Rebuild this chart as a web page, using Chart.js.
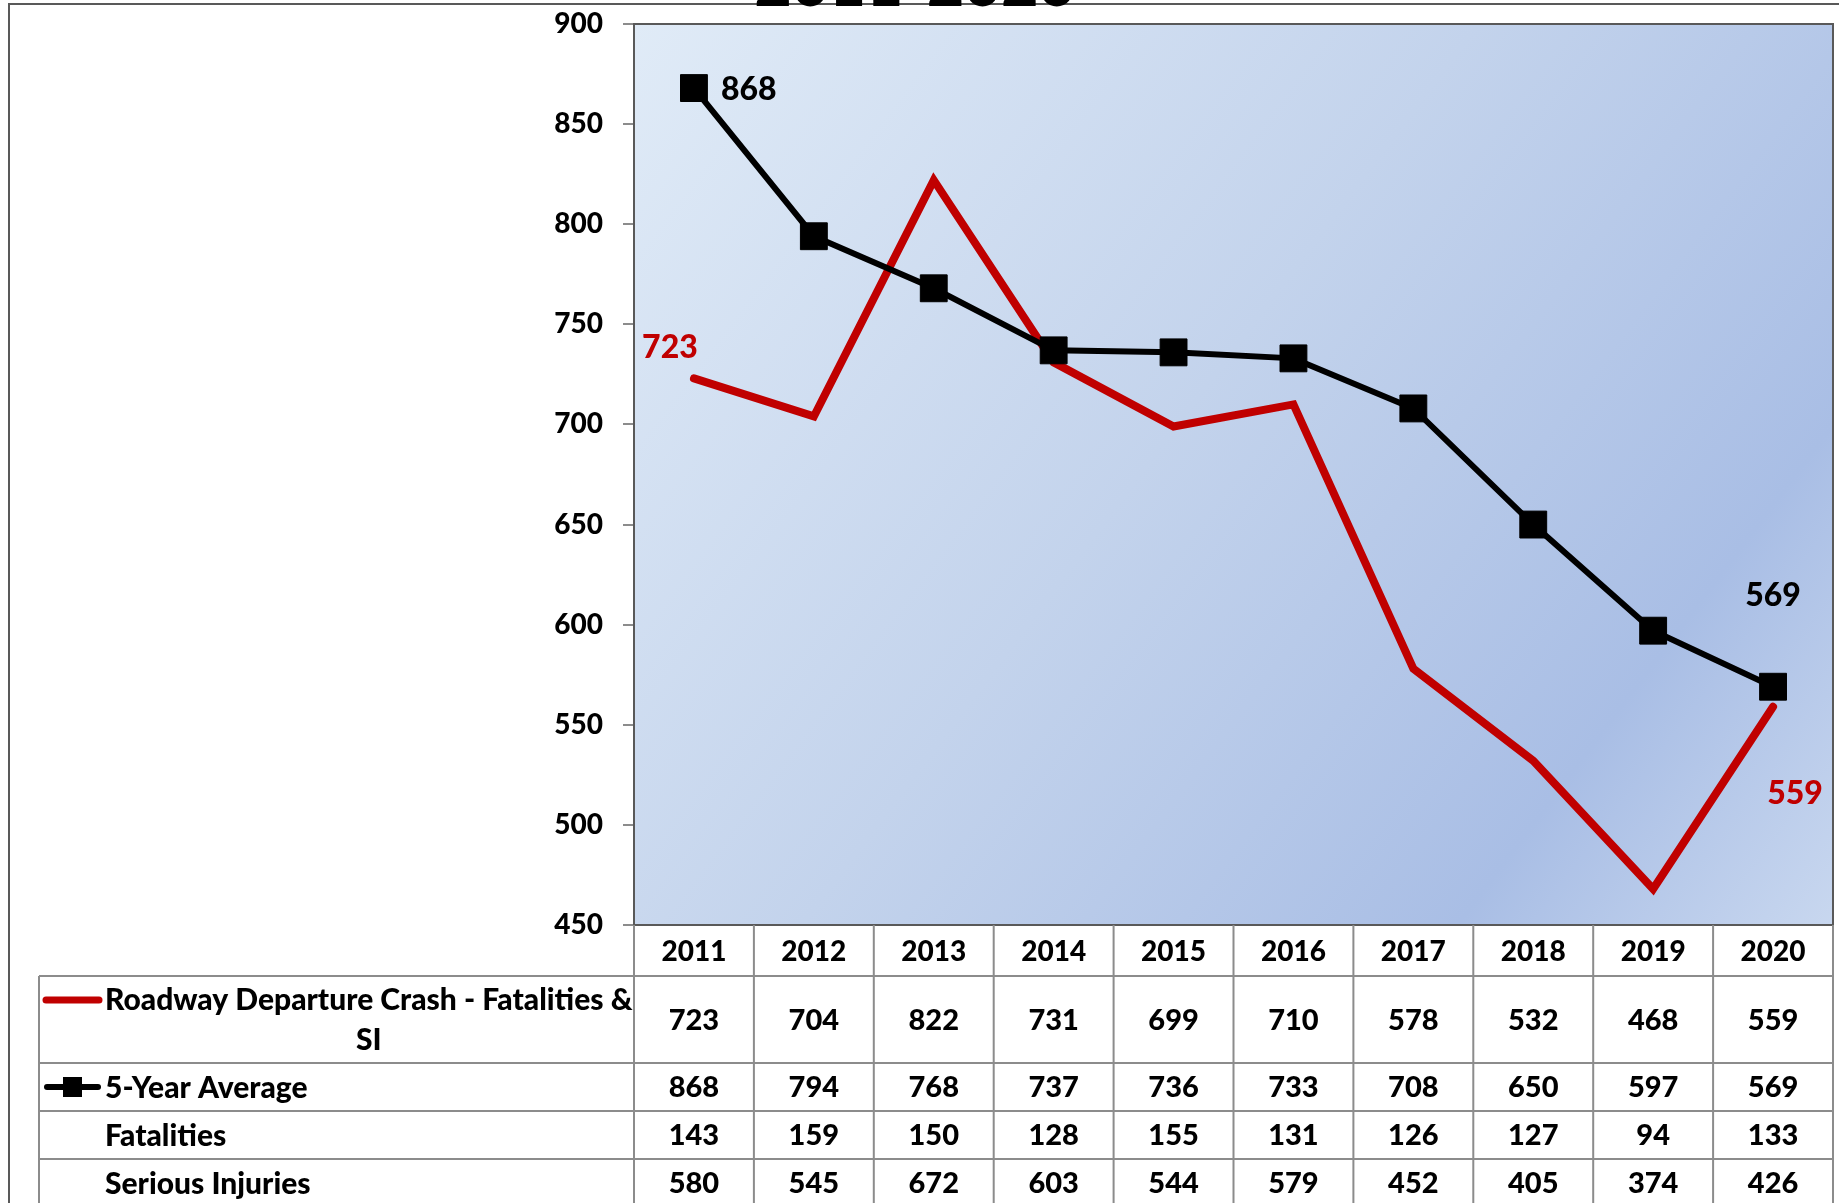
<!DOCTYPE html>
<html>
<head>
<meta charset="utf-8">
<script src="https://cdn.jsdelivr.net/npm/chart.js"></script>
<style>
  html, body { margin: 0; padding: 0; background: #fff; overflow: hidden; }
</style>
</head>
<body>
<canvas id="chart" width="1839" height="1203"></canvas>
<script>
// chart data
const years = ["2011", "2012", "2013", "2014", "2015", "2016", "2017", "2018", "2019", "2020"];
const roadwayDeparture = [723, 704, 822, 731, 699, 710, 578, 532, 468, 559];
const fiveYearAverage = [868, 794, 768, 737, 736, 733, 708, 650, 597, 569];
const fatalities = [143, 159, 150, 128, 155, 131, 126, 127, 94, 133];
const seriousInjuries = [580, 545, 672, 603, 544, 579, 452, 405, 374, 426];
const yMin = 450, yMax = 900, yStep = 50;

const FONT = "Lato, 'Open Sans', sans-serif";
const RED = "#c00000";
const GRID = "#8c8c8c";

// plot background gradient + border
const plotBackground = {
  id: "plotBackground",
  beforeDatasetsDraw(chart) {
    const { ctx, chartArea: a } = chart;
    ctx.save();
    const g = ctx.createLinearGradient(a.left, a.top, a.right, a.bottom);
    g.addColorStop(0, "#e0ebf7");
    g.addColorStop(0.45, "#c3d3ec");
    g.addColorStop(0.8, "#a9bee5");
    g.addColorStop(1, "#c8d7ef");
    ctx.fillStyle = g;
    ctx.fillRect(a.left, a.top, a.right - a.left, a.bottom - a.top);
    ctx.strokeStyle = "#595959";
    ctx.lineWidth = 2;
    ctx.strokeRect(a.left, a.top, a.right - a.left, a.bottom - a.top);
    ctx.restore();
  }
};

// first/last value labels
const endLabels = {
  id: "endLabels",
  afterDatasetsDraw(chart) {
    const ctx = chart.ctx;
    ctx.save();
    ctx.font = "900 32px " + FONT;
    ctx.textBaseline = "middle";
    chart.data.datasets.forEach((ds, i) => {
      const meta = chart.getDatasetMeta(i);
      (ds.endLabels || []).forEach(l => {
        const pt = meta.data[l.index];
        ctx.fillStyle = ds.labelColor;
        ctx.textAlign = l.align;
        ctx.fillText(String(ds.data[l.index]), pt.x + l.dx, pt.y + l.dy);
      });
    });
    ctx.restore();
  }
};

// data table, outer frame and clipped title
const dataTable = {
  id: "dataTable",
  afterDraw(chart) {
    const { ctx, chartArea: a } = chart;
    const x = chart.scales.x;
    const colW = x.getPixelForValue(1) - x.getPixelForValue(0);
    const tableLeft = 39;
    const rowTops = [a.bottom, a.bottom + 51, a.bottom + 138, a.bottom + 186, a.bottom + 234, a.bottom + 282];
    const rows = [roadwayDeparture, fiveYearAverage, fatalities, seriousInjuries];
    ctx.save();

    // frame
    ctx.strokeStyle = "#595959";
    ctx.lineWidth = 2;
    ctx.beginPath();
    ctx.moveTo(9, chart.height);
    ctx.lineTo(9, 4);
    ctx.lineTo(chart.width, 4);
    ctx.stroke();

    // title (mostly above the page)
    ctx.fillStyle = "#000";
    ctx.font = "900 64px " + FONT;
    ctx.textAlign = "center";
    ctx.textBaseline = "alphabetic";
    ctx.fillText("2011-2020", 915, 6);

    // grid
    ctx.strokeStyle = GRID;
    ctx.lineWidth = 2;
    ctx.beginPath();
    for (let i = 0; i <= years.length; i++) {
      const xx = a.left + i * colW;
      ctx.moveTo(xx, a.bottom);
      ctx.lineTo(xx, chart.height);
    }
    for (let r = 1; r < rowTops.length - 1; r++) {
      ctx.moveTo(tableLeft, rowTops[r]);
      ctx.lineTo(a.right, rowTops[r]);
    }
    ctx.moveTo(tableLeft, rowTops[1]);
    ctx.lineTo(tableLeft, chart.height);
    ctx.stroke();

    // year header
    ctx.fillStyle = "#000";
    ctx.font = "900 28px " + FONT;
    ctx.textBaseline = "middle";
    ctx.textAlign = "center";
    years.forEach((y, i) => ctx.fillText(y, x.getPixelForValue(i), (rowTops[0] + rowTops[1]) / 2 + 1));

    // values
    ctx.font = "900 29px " + FONT;
    rows.forEach((vals, r) => {
      const cy = (rowTops[r + 1] + rowTops[r + 2]) / 2 + 1;
      vals.forEach((v, i) => ctx.fillText(String(v), x.getPixelForValue(i), cy));
    });

    // row labels
    ctx.font = "900 30px " + FONT;
    const textX = 105;
    ctx.textAlign = "left";
    const l1 = "Roadway Departure Crash - Fatalities &";
    const y1 = rowTops[1] + 24;
    ctx.fillText(l1, textX, y1);
    ctx.textAlign = "center";
    ctx.fillText("SI", textX + ctx.measureText(l1).width / 2, y1 + 40);
    ctx.strokeStyle = RED;
    ctx.lineWidth = 7;
    ctx.lineCap = "round";
    ctx.beginPath();
    ctx.moveTo(46, y1);
    ctx.lineTo(99, y1);
    ctx.stroke();

    const y2 = (rowTops[2] + rowTops[3]) / 2;
    ctx.strokeStyle = "#000";
    ctx.lineWidth = 6;
    ctx.beginPath();
    ctx.moveTo(47, y2);
    ctx.lineTo(98, y2);
    ctx.stroke();
    ctx.fillRect(63, y2 - 10, 19, 20);
    ctx.textAlign = "left";
    ctx.fillText("5-Year Average", textX, y2 + 1);
    ctx.fillText("Fatalities", textX, (rowTops[3] + rowTops[4]) / 2 + 1);
    ctx.fillText("Serious Injuries", textX, (rowTops[4] + rowTops[5]) / 2 + 1);
    ctx.restore();
  }
};

new Chart(document.getElementById("chart"), {
  type: "line",
  data: {
    labels: years,
    datasets: [
      {
        label: "Roadway Departure Crash - Fatalities & SI",
        data: roadwayDeparture,
        borderColor: RED,
        borderWidth: 8,
        borderCapStyle: "round",
        borderJoinStyle: "miter",
        pointRadius: 0,
        tension: 0,
        order: 1,
        labelColor: RED,
        endLabels: [
          { index: 0, dx: -24, dy: -31, align: "center" },
          { index: 9, dx: 22, dy: 87, align: "center" }
        ]
      },
      {
        label: "5-Year Average",
        data: fiveYearAverage,
        borderColor: "#000",
        borderWidth: 6,
        pointStyle: "rect",
        pointRadius: 19,
        pointBackgroundColor: "#000",
        pointBorderColor: "#000",
        pointBorderWidth: 1,
        tension: 0,
        order: 0,
        labelColor: "#000",
        endLabels: [
          { index: 0, dx: 27, dy: 2, align: "left" },
          { index: 9, dx: 0, dy: -91, align: "center" }
        ]
      }
    ]
  },
  options: {
    responsive: false,
    devicePixelRatio: 1,
    animation: false,
    layout: { autoPadding: false, padding: { left: 0, top: 24, right: 6, bottom: 278 } },
    plugins: {
      legend: { display: false },
      title: { display: false },
      tooltip: { enabled: false }
    },
    scales: {
      x: {
        display: false,
        offset: true
      },
      y: {
        min: yMin,
        max: yMax,
        afterFit(scale) {
          scale.width = 634;
          scale.paddingTop = 0;
          scale.paddingBottom = 0;
        },
        ticks: {
          stepSize: yStep,
          padding: 20,
          color: "#000",
          font: { family: FONT, size: 28, weight: "900" }
        },
        grid: {
          drawOnChartArea: false,
          drawTicks: true,
          tickLength: 11,
          color: GRID,
          lineWidth: 2
        },
        border: { display: false }
      }
    }
  },
  plugins: [plotBackground, endLabels, dataTable]
});
</script>
</body>
</html>
